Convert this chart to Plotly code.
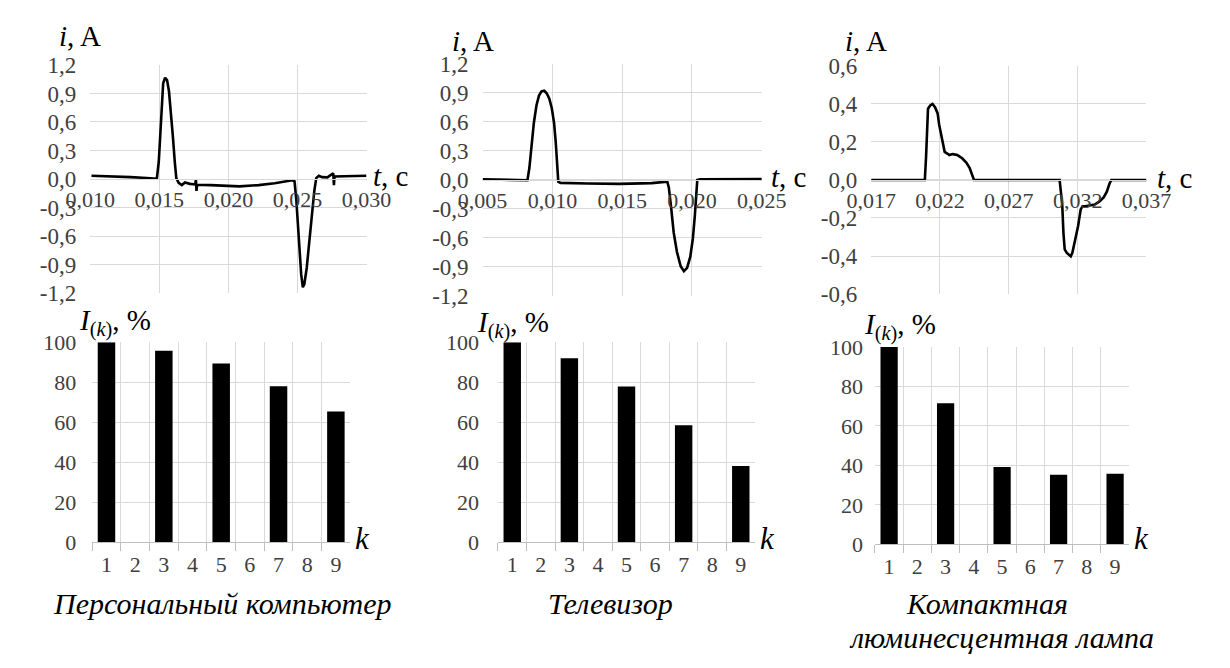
import plotly.graph_objects as go

W, H = 1230, 668

# ---------------- current waveforms (t, s ; i, A) ----------------
pc_t = [0.01009, 0.01176, 0.01292, 0.01408, 0.01482, 0.01496, 0.01508, 0.01519, 0.01528, 0.01542,
        0.01556, 0.01570, 0.01584, 0.01598, 0.01612, 0.01623, 0.01640, 0.01663, 0.01686, 0.01721,
        0.01760, 0.01765, 0.01769, 0.01774, 0.01871, 0.01987, 0.02080, 0.02219, 0.02335, 0.02462,
        0.02479, 0.02492, 0.02504, 0.02516, 0.02527, 0.02539, 0.02550, 0.02567, 0.02585, 0.02604,
        0.02622, 0.02636, 0.02655, 0.02678, 0.02717, 0.02759, 0.02764, 0.02768, 0.02845, 0.03000]
pc_i = [0.034, 0.030, 0.020, 0.010, 0.003, 0.179, 0.517, 0.855, 1.007, 1.065,
        1.041, 0.923, 0.720, 0.450, 0.179, 0.010, -0.041, -0.064, -0.037, -0.051,
        -0.057, -0.007, -0.125, -0.060, -0.064, -0.071, -0.078, -0.064, -0.044, -0.014,
        -0.024, -0.226, -0.497, -0.767, -1.004, -1.139, -1.105, -0.936, -0.666, -0.395,
        -0.125, 0.010, 0.034, 0.020, 0.017, 0.061, -0.064, 0.027, 0.027, 0.034]

tv_t = [0.00500, 0.00679, 0.00821, 0.00835, 0.00851, 0.00867, 0.00886, 0.00904, 0.00922, 0.00941,
        0.00959, 0.00978, 0.00996, 0.01012, 0.01024, 0.01033, 0.01042, 0.01058, 0.01138, 0.01253,
        0.01483, 0.01712, 0.01823, 0.01834, 0.01850, 0.01869, 0.01892, 0.01919, 0.01942, 0.01965,
        0.01988, 0.02006, 0.02020, 0.02029, 0.02038, 0.02057, 0.02240, 0.02500]
tv_i = [0.007, 0.003, -0.003, 0.123, 0.357, 0.590, 0.773, 0.873, 0.917, 0.923,
        0.897, 0.840, 0.740, 0.590, 0.390, 0.123, -0.017, -0.030, -0.030, -0.037,
        -0.040, -0.033, -0.017, -0.077, -0.277, -0.543, -0.743, -0.893, -0.943, -0.910,
        -0.793, -0.610, -0.377, -0.143, 0.000, 0.007, 0.007, 0.010]

cfl_t = [0.01700, 0.02090, 0.02099, 0.02106, 0.02113, 0.02129, 0.02146, 0.02164, 0.02183, 0.02194,
         0.02206, 0.02215, 0.02224, 0.02234, 0.02253, 0.02268, 0.02292, 0.02326, 0.02361, 0.02391,
         0.02415, 0.02433, 0.02447, 0.03069, 0.03088, 0.03097, 0.03106, 0.03120, 0.03139, 0.03150,
         0.03162, 0.03176, 0.03190, 0.03204, 0.03213, 0.03222, 0.03236, 0.03255, 0.03324, 0.03359,
         0.03389, 0.03412, 0.03431, 0.03445, 0.03700]
cfl_i = [0.000, 0.000, 0.123, 0.291, 0.375, 0.392, 0.400, 0.383, 0.350, 0.291,
         0.244, 0.224, 0.173, 0.148, 0.139, 0.131, 0.136, 0.131, 0.114, 0.092,
         0.064, 0.030, 0.000, 0.000, -0.129, -0.281, -0.365, -0.382, -0.395, -0.402,
         -0.382, -0.339, -0.281, -0.239, -0.197, -0.155, -0.138, -0.138, -0.129, -0.113,
         -0.092, -0.062, -0.020, 0.000, 0.000]

# ---------------- harmonic spectra (I(k), %) ----------------
harmonic_k = ["1", "2", "3", "4", "5", "6", "7", "8", "9"]
pc_spectrum = [100, 0, 95.7, 0, 89.4, 0, 78.0, 0, 65.4]
tv_spectrum = [100, 0, 92.0, 0, 77.8, 0, 58.5, 0, 38.1]
cfl_spectrum = [100, 0, 71.5, 0, 39.2, 0, 35.2, 0, 35.8]

# ---------------- ticks ----------------
i_ticks_12 = [-1.2, -0.9, -0.6, -0.3, 0.0, 0.3, 0.6, 0.9, 1.2]
i_text_12 = ["-1,2", "-0,9", "-0,6", "-0,3", "0,0", "0,3", "0,6", "0,9", "1,2"]
i_ticks_06 = [-0.6, -0.4, -0.2, 0.0, 0.2, 0.4, 0.6]
i_text_06 = ["-0,6", "-0,4", "-0,2", "0,0", "0,2", "0,4", "0,6"]
pc_t_ticks = [0.010, 0.015, 0.020, 0.025, 0.030]
pc_t_text = ["0,010", "0,015", "0,020", "0,025", "0,030"]
tv_t_ticks = [0.005, 0.010, 0.015, 0.020, 0.025]
tv_t_text = ["0,005", "0,010", "0,015", "0,020", "0,025"]
cfl_t_ticks = [0.017, 0.022, 0.027, 0.032, 0.037]
cfl_t_text = ["0,017", "0,022", "0,027", "0,032", "0,037"]
pct_ticks = [0, 20, 40, 60, 80, 100]

captions = ["Персональный компьютер", "Телевизор", "Компактная", "люминесцентная лампа"]

SERIF = "Liberation Serif"
GRID = "#d9d9d9"
TICKCOL = "#404040"
XFONT = dict(family=SERIF, size=22, color=TICKCOL)
YFONT_TOP = dict(family=SERIF, size=23, color=TICKCOL)
TITLEFONT = dict(family=SERIF, size=29, color="black")


def dx(l, r):
    return [l / W, r / W]


def dy(t, b):
    return [1 - b / H, 1 - t / H]


def px(x):
    return x / W


def py(y):
    return 1 - y / H


fig = go.Figure()

# pixel boxes of the plot areas (left, right, top, bottom)
top_boxes = [(68, 356, 55, 292), (477, 768, 54, 295), (882, 1169, 56, 293)]
bot_boxes = [(70, 339, 343, 551), (493, 761, 343, 551), (886, 1151, 348, 553)]

# text anchor positions (pixels)
ia_pos = [(33, 25), (443, 30), (853, 30)]        # "i, A" left / centre-y
tc_pos = [(361, 170), (776, 171), (1178, 172)]   # "t, c"
ik_pos = [(54, 323), (469, 325), (872, 327)]     # "I(k), %"
k_pos = [(342, 547), (764, 547), (1154, 547)]    # "k"

waves = [(pc_t, pc_i), (tv_t, tv_i), (cfl_t, cfl_i)]
t_axes = [(pc_t_ticks, pc_t_text), (tv_t_ticks, tv_t_text), (cfl_t_ticks, cfl_t_text)]
i_axes = [(i_ticks_12, i_text_12), (i_ticks_12, i_text_12), (i_ticks_06, i_text_06)]
spectra = [pc_spectrum, tv_spectrum, cfl_spectrum]
y_standoff = [15, 18, 11]

layout = dict(
    width=W, height=H, margin=dict(l=0, r=0, t=0, b=0),
    paper_bgcolor="white", plot_bgcolor="white", showlegend=False,
    bargap=0.39, font=dict(family=SERIF),
)

annotations = []

for n in range(3):
    xi = n + 1
    xs = "" if xi == 1 else str(xi)
    t, i = waves[n]
    fig.add_trace(go.Scatter(x=t, y=i, mode="lines", line=dict(color="black", width=2.6),
                             xaxis="x" + xs, yaxis="y" + xs, hoverinfo="skip"))
    l, r, tp, b = top_boxes[n]
    ydom = dy(tp, b)
    tt, ttxt = t_axes[n]
    it, itxt = i_axes[n]
    layout["xaxis" + xs] = dict(
        domain=dx(l, r), range=[tt[0], tt[-1]], tickvals=tt, ticktext=ttxt,
        anchor="free", position=(ydom[0] + ydom[1]) / 2,
        showgrid=True, gridcolor=GRID, gridwidth=1, zeroline=False,
        showline=True, linecolor=GRID, ticks="", tickfont=XFONT,
        ticklabelstandoff=1, fixedrange=True,
    )
    layout["yaxis" + xs] = dict(
        domain=ydom, range=[it[0], it[-1]], tickvals=it, ticktext=itxt,
        anchor="x" + xs, showgrid=True, gridcolor=GRID, gridwidth=1, zeroline=False,
        showline=False, ticks="", tickfont=YFONT_TOP, ticklabelstandoff=13, fixedrange=True,
    )
    annotations.append(dict(text="<i>i</i>, A", xref="paper", yref="paper",
                            x=px(ia_pos[n][0]), y=py(ia_pos[n][1]), xanchor="left", yanchor="middle",
                            showarrow=False, font=TITLEFONT))
    annotations.append(dict(text="<i>t</i>, c", xref="paper", yref="paper",
                            x=px(tc_pos[n][0]), y=py(tc_pos[n][1]), xanchor="left", yanchor="middle",
                            showarrow=False, font=TITLEFONT))

for n in range(3):
    xi = n + 4
    xs = str(xi)
    fig.add_trace(go.Bar(x=harmonic_k, y=spectra[n], marker=dict(color="black", line=dict(width=0)),
                         xaxis="x" + xs, yaxis="y" + xs, hoverinfo="skip"))
    l, r, tp, b = bot_boxes[n]
    layout["xaxis" + xs] = dict(
        domain=dx(l, r), type="category", range=[-0.5, 8.5], anchor="y" + xs,
        tickson="boundaries", showgrid=True, gridcolor=GRID, gridwidth=1,
        showline=True, linecolor="#bfbfbf", linewidth=1,
        ticks="outside", ticklen=8, tickcolor="#bfbfbf", tickwidth=1,
        tickfont=XFONT, ticklabelstandoff=2, fixedrange=True,
    )
    layout["yaxis" + xs] = dict(
        domain=dy(tp, b), range=[0, 100], tickvals=pct_ticks, anchor="x" + xs,
        showgrid=True, gridcolor=GRID, gridwidth=1, zeroline=False, showline=False,
        ticks="", tickfont=XFONT, ticklabelstandoff=y_standoff[n], fixedrange=True,
    )
    annotations.append(dict(text="<i>I</i><sub>(<i>k</i>)</sub>, %", xref="paper", yref="paper",
                            x=px(ik_pos[n][0]), y=py(ik_pos[n][1]), xanchor="left", yanchor="middle",
                            showarrow=False, font=TITLEFONT))
    annotations.append(dict(text="<i>k</i>", xref="paper", yref="paper",
                            x=px(k_pos[n][0]), y=py(k_pos[n][1]), xanchor="left", yanchor="middle",
                            showarrow=False, font=dict(family=SERIF, size=31, color="black")))

cap_font = dict(family=SERIF, size=30, color="black")
cap_pos = [(206, 615), (610, 615), (1003, 615), (1018, 650)]
for text, (cx, cy) in zip(captions, cap_pos):
    annotations.append(dict(text="<i>%s</i>" % text, xref="paper", yref="paper",
                            x=px(cx), y=py(cy), xanchor="center", yanchor="middle",
                            showarrow=False, font=cap_font))

layout["annotations"] = annotations
fig.update_layout(**layout)
fig.write_html("out.html")
